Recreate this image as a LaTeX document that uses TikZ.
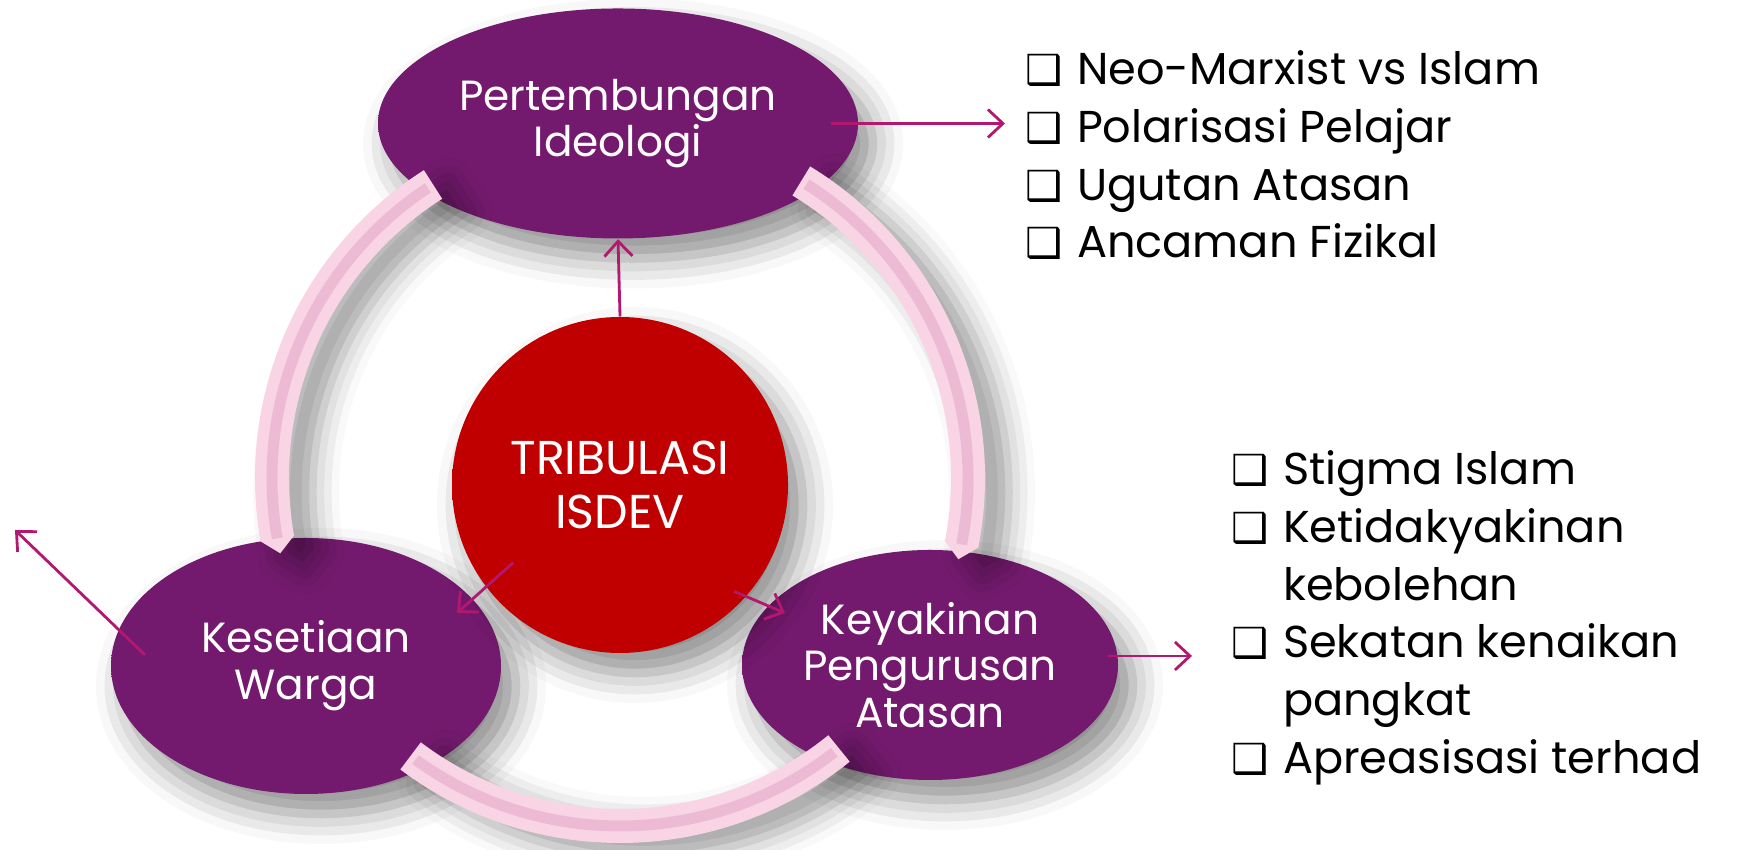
\documentclass[tikz,border=0pt]{standalone}
\usepackage{fontspec}
\setmainfont{Poppins}
\newfontfamily\symfont{DejaVu Sans}
\usetikzlibrary{shapes.geometric}
\usetikzlibrary{arrows.meta}
\usetikzlibrary{shadows.blur}

\definecolor{plumcore}{RGB}{116,26,110}
\definecolor{plumrim}{RGB}{190,48,190}
\definecolor{redcore}{RGB}{192,0,0}
\definecolor{redrim}{RGB}{255,12,12}
\definecolor{tubepink}{RGB}{248,212,228}
\definecolor{tubemid}{RGB}{226,164,196}
\definecolor{arrowmag}{RGB}{178,24,112}

\pgfdeclareradialshading{plumshade}{\pgfpoint{0bp}{0bp}}{color(0bp)=(plumcore); color(40bp)=(plumcore); color(50bp)=(plumrim)}
\pgfdeclareradialshading{redshade}{\pgfpoint{0bp}{0bp}}{color(0bp)=(redcore); color(38bp)=(redcore); color(50bp)=(redrim)}

\newcommand{\boxitem}{\makebox[14.6pt][l]{\fontsize{11.8}{16.4}\symfont ❑}}

\tikzset{
  softshadow/.style={blur shadow={shadow xshift=1.5mm, shadow yshift=-2mm, shadow blur radius=3mm, shadow opacity=45}},
  issue/.style={ellipse, shading=plumshade, inner sep=0pt, text=white, align=center,
    font=\fontsize{12}{13.3}\selectfont, softshadow},
  core/.style={circle, shading=redshade, inner sep=0pt, text=white, align=center,
    font=\fontsize{13.5}{15.6}\selectfont, softshadow},
  tube/.style={fill=tubepink, blur shadow={shadow xshift=2.4mm, shadow yshift=-1.4mm, shadow blur radius=2.6mm, shadow opacity=38}},
  stripe/.style={draw=tubemid, line width=1.1mm, opacity=0.5},
  arr/.style={draw=arrowmag, line width=0.8pt, -{Straight Barb[length=1.5mm,width=2.8mm]}},
  pointlist/.style={anchor=base west, inner sep=0pt, font=\fontsize{12.7}{16.4}\selectfont}
}

\begin{document}
\begin{tikzpicture}
    \useasboundingbox (0,0) rectangle (17.42,8.5);

    % the three issues and the core
    \node[issue, minimum width=4.80cm, minimum height=2.30cm] (pert) at (6.18,7.265) {Pertembungan\\Ideologi};
    \node[issue, minimum width=3.90cm, minimum height=2.56cm] (warga) at (3.06,1.84) {Kesetiaan\\Warga};
    \node[issue, minimum width=3.76cm, minimum height=2.30cm] (yakin) at (9.30,1.85) {Keyakinan\\Pengurusan\\Atasan};
    \node[core, minimum size=3.36cm] (tri) at (6.20,3.65) {TRIBULASI\\ISDEV};

    % ring pieces
    \begin{scope}[shift={(6.20,3.72)}]
        \fill[tube] (122.5:3.65) arc[start angle=122.5, end angle=190, radius=3.65] -- (192.5:3.48)
            -- (190:3.31) arc[start angle=190, end angle=122.5, radius=3.31] -- cycle;
        \fill[tube] (58.6:3.65) arc[start angle=58.6, end angle=-11, radius=3.65] -- (-13.5:3.48)
            -- (-11:3.31) arc[start angle=-11, end angle=58.6, radius=3.31] -- cycle;
        \fill[tube] (233:3.65) arc[start angle=233, end angle=309, radius=3.65]
            -- (309:3.31) arc[start angle=309, end angle=233, radius=3.31] -- cycle;
        \draw[stripe] (123.5:3.48) arc[start angle=123.5, end angle=190, radius=3.48];
        \draw[stripe] (57.6:3.48) arc[start angle=57.6, end angle=-11, radius=3.48];
        \draw[stripe] (234:3.48) arc[start angle=234, end angle=308, radius=3.48];
    \end{scope}

    % lists
    \node[pointlist] (ideolist) at (10.25,7.65) {\begin{tabular}[t]{@{}l@{}}
        \boxitem Neo-Marxist vs Islam\\
        \boxitem Polarisasi Pelajar\\
        \boxitem Ugutan Atasan\\
        \boxitem Ancaman Fizikal
    \end{tabular}};
    \node[pointlist] (yakinlist) at (12.31,3.65) {\begin{tabular}[t]{@{}l@{}}
        \boxitem Stigma Islam\\
        \boxitem Ketidakyakinan\\
        \hspace*{14.6pt}kebolehan\\
        \boxitem Sekatan kenaikan\\
        \hspace*{14.6pt}pangkat\\
        \boxitem Apreasisasi terhad
    \end{tabular}};

    % arrows
    \coordinate (loose) at (0.15,3.20);
    \draw[arr] ([xshift=-2.8mm]pert.east) -- ([xshift=-2mm]pert.east -| ideolist.west);
    \draw[arr] (tri.north) -- (pert.south);
    \draw[arr] ([shift={(216:1.32)}]tri.center) -- ([shift={(1.51,0.53)}]warga.center);
    \draw[arr] ([shift={(-43:1.56)}]tri.center) -- ([shift={(-1.45,0.52)}]yakin.center);
    \draw[arr] ([shift={(-1.1mm,0.9mm)}]yakin.east) -- ([shift={(-3.9mm,0.9mm)}]yakin.east -| yakinlist.west);
    \draw[arr] ([shift={(-1.61,0.11)}]warga.center) -- (loose);
\end{tikzpicture}
\end{document}
